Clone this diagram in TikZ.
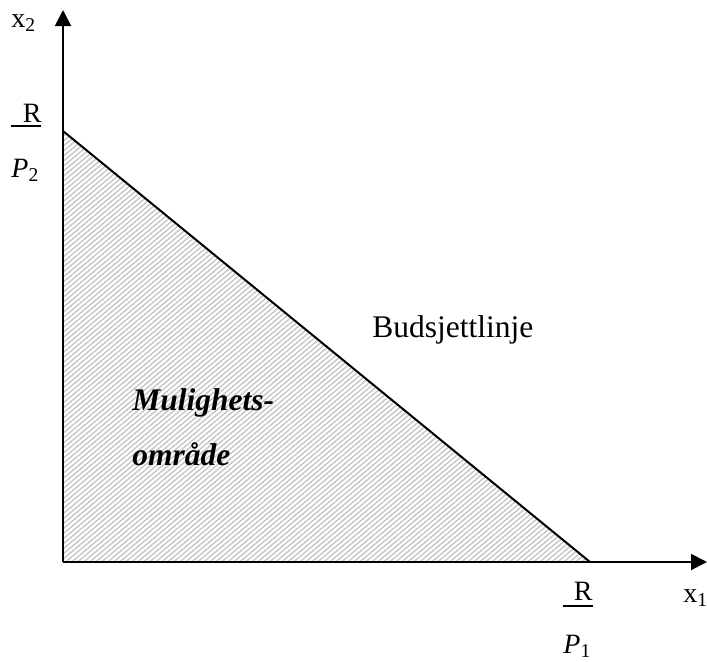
\documentclass[tikz,border=0pt]{standalone}
\usepackage{fontspec}
\setmainfont{Liberation Serif}
\usetikzlibrary{arrows.meta,positioning}

\tikzset{
  axis/.style={line width=1pt,-{Triangle[length=8pt,width=8pt]}},
  budget/.style={line width=1pt},
  hatch/.style={black!22,line width=0.7pt},
  bar/.style={line width=1pt},
  lbl/.style={inner sep=0pt,font=\fontsize{14}{16}\selectfont},
  big/.style={inner sep=0pt,font=\fontsize{15.75}{18}\selectfont}
}

\begin{document}
\begin{tikzpicture}[x=0.5pt,y=-0.5pt]
\useasboundingbox (0,0) rectangle (707,661);
\coordinate (o) at (63,562);
\coordinate (ytop) at (63,10);
\coordinate (xend) at (707,562);
\coordinate (a) at (63,131);
\coordinate (b) at (590,562);
% hatched region
\begin{scope}
\clip (a) -- (o) -- (b) -- cycle;
\foreach \s in {-520,-514,...,600}
  \draw[hatch] (\s,570) -- ++(540,-453);
\end{scope}
% axes and budget line
\draw[axis] (o) -- (ytop);
\draw[axis] (o) -- (xend);
\draw[budget] (a) -- (b);
% labels
\node[lbl,anchor=base west] (xtwo) at (11,27) {x\textsubscript{2}};
\node[lbl,anchor=base west] (xone) at (683,602) {x\textsubscript{1}};
\node[lbl,anchor=base east] (rtwo) at (42,122) {R};
\draw[bar] (11,126) -- (41,126);
\node[lbl,anchor=base west] (ptwo) at (11,177) {\textit{P}\textsubscript{2}};
\node[lbl,anchor=base east] (rone) at (593,600) {R};
\draw[bar] (563,606) -- (593,606);
\node[lbl,anchor=base west] (pone) at (563,653) {\textit{P}\textsubscript{1}};
\node[big,anchor=base west] (bline) at (372,337) {Budsjettlinje};
\node[big,anchor=base west,font=\fontsize{15.75}{18}\selectfont\bfseries\itshape] (muli) at (132,410) {Mulighets-};
\node[big,anchor=base west,font=\fontsize{15.75}{18}\selectfont\bfseries\itshape] (omr) at ([yshift=-27.5pt]muli.base west) {område};
\end{tikzpicture}
\end{document}
